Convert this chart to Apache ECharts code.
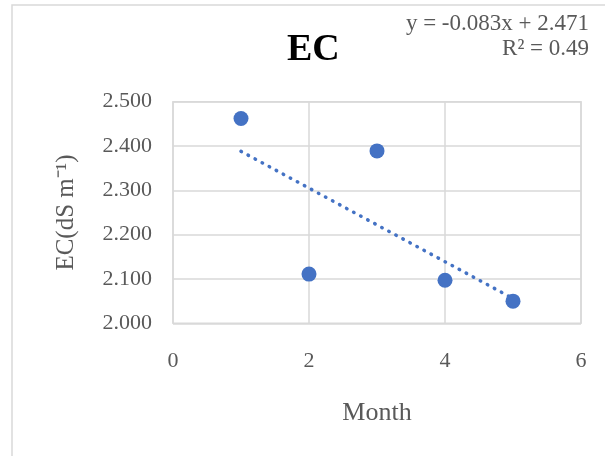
<!DOCTYPE html>
<html>
<head>
<meta charset="utf-8">
<script src="https://cdn.jsdelivr.net/npm/echarts@6/dist/echarts.min.js"></script>
<style>html,body{margin:0;padding:0;background:#fff}#c{width:605px;height:456px}</style>
</head>
<body>
<div id="c"></div>
<script>
// Data
const months = [1, 2, 3, 4, 5];
const ecValues = [2.462, 2.111, 2.389, 2.097, 2.050];
const trendMonths = [1, 5];
const trendValues = [2.388, 2.056];
const equationLines = ['y = -0.083x + 2.471', 'R² = 0.49'];
const xTicks = [0, 2, 4, 6];
const yTicks = ['2.000', '2.100', '2.200', '2.300', '2.400', '2.500'];

const serif = '"Liberation Serif", "Times New Roman", serif';
const gray = '#595959';
const blue = '#4472C4';

const chart = echarts.init(document.getElementById('c'));
chart.setOption({
  animation: false,
  backgroundColor: '#fff',
  title: {
    text: 'EC', left: 287, top: 31, padding: 0,
    textStyle: {fontFamily: serif, fontSize: 38, fontWeight: 'bold', color: '#000'}
  },
  graphic: [
    {type: 'rect', shape: {x: 12, y: 5, width: 800, height: 800},
     style: {fill: 'none', stroke: '#d9d9d9', lineWidth: 1.5}, silent: true},
    {type: 'text', x: 589, y: 24,
     style: {text: equationLines[0], align: 'right', verticalAlign: 'middle',
             font: '23px ' + serif, fill: gray}},
    {type: 'text', x: 589, y: 49,
     style: {text: equationLines[1], align: 'right', verticalAlign: 'middle',
             font: '23px ' + serif, fill: gray}}
  ],
  grid: {left: 173, right: 24, top: 101.7, bottom: 132.7, show: true,
         borderColor: '#d9d9d9', borderWidth: 1.5, containLabel: false},
  xAxis: {
    type: 'value', min: xTicks[0], max: xTicks[xTicks.length - 1], interval: 2,
    name: 'Month', nameLocation: 'middle', nameGap: 77,
    nameTextStyle: {fontFamily: serif, fontSize: 26, color: gray},
    axisLine: {show: false}, axisTick: {show: false},
    axisLabel: {fontFamily: serif, fontSize: 22, color: gray, margin: 27},
    splitLine: {lineStyle: {color: '#d9d9d9', width: 1.5}}
  },
  yAxis: {
    type: 'value', min: Number(yTicks[0]), max: Number(yTicks[yTicks.length - 1]), interval: 0.1,
    name: 'EC(dS m⁻¹)', nameLocation: 'middle', nameGap: 94,
    nameTextStyle: {fontFamily: serif, fontSize: 25, color: gray},
    axisLine: {show: false}, axisTick: {show: false},
    axisLabel: {fontFamily: serif, fontSize: 22, color: gray, margin: 21,
                formatter: v => v.toFixed(3)},
    splitLine: {lineStyle: {color: '#d9d9d9', width: 1.5}}
  },
  series: [
    {
      type: 'line', data: trendMonths.map((m, i) => [m, trendValues[i]]),
      symbol: 'none', z: 1,
      lineStyle: {color: blue, width: 3.5, type: [0.5, 7.5], cap: 'round'}
    },
    {
      type: 'scatter', data: months.map((m, i) => [m, ecValues[i]]),
      symbolSize: 15, z: 2, itemStyle: {color: blue, opacity: 1}
    }
  ]
});
</script>
</body>
</html>
